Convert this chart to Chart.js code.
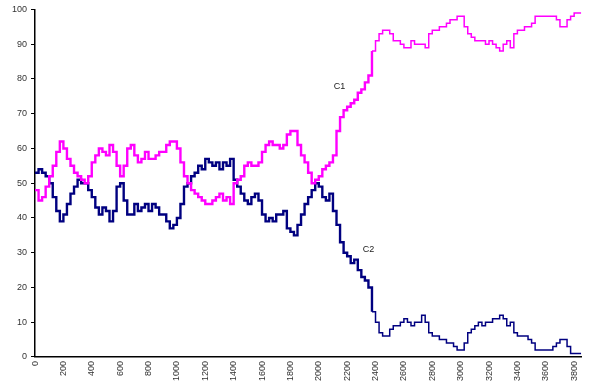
<!DOCTYPE html>
<html lang="en">
<head>
    <meta charset="UTF-8" />
    <title>C1 / C2</title>
    <script src="https://cdn.jsdelivr.net/npm/chart.js"></script>
    <style>
        body {
          margin: 0;
          background: white;
        }
        .chart-box {
          width: 589px;
          height: 385px;
        }
    </style>
</head>
<body>

<div class="chart-box">
    <canvas id="chart" width="589" height="385"></canvas>
</div>

<script>
    // sample spacing along the x axis (one value every 25 steps)
    const STEP = 25;

    // C1 (magenta)
    const c1 = [
      48, 45, 46, 49, 52, 55, 59, 62, 60, 57, 55, 53, 52, 51, 50, 52,
      56, 58, 60, 59, 58, 61, 59, 55, 52, 55, 60, 61, 58, 56, 57, 59,
      57, 57, 58, 59, 59, 61, 62, 62, 60, 56, 52, 50, 48, 47, 46, 45,
      44, 44, 45, 46, 47, 45, 46, 44, 50, 51, 52, 55, 56, 55, 55, 56,
      59, 61, 62, 61, 61, 60, 61, 64, 65, 65, 61, 58, 56, 53, 50, 51,
      52, 54, 55, 56, 58, 65, 69, 71, 72, 73, 74, 76, 77, 79, 81, 88,
      91, 93, 94, 94, 93, 91, 91, 90, 89, 89, 91, 90, 90, 90, 89, 93,
      94, 94, 95, 95, 96, 97, 97, 98, 98, 95, 93, 92, 91, 91, 91, 90,
      91, 90, 89, 88, 90, 91, 89, 93, 94, 94, 95, 95, 96, 98, 98, 98,
      98, 98, 98, 97, 95, 95, 97, 98, 99, 99, 99
    ];

    // C2 (navy)
    const c2 = [
      53, 54, 53, 52, 50, 46, 42, 39, 41, 44, 47, 49, 51, 50, 50, 48,
      46, 43, 41, 43, 42, 39, 42, 49, 50, 45, 41, 41, 44, 42, 43, 44,
      42, 44, 43, 41, 41, 39, 37, 38, 40, 44, 49, 50, 52, 53, 55, 54,
      57, 56, 55, 56, 54, 56, 55, 57, 51, 49, 47, 45, 44, 46, 47, 45,
      41, 39, 40, 39, 41, 41, 42, 37, 36, 35, 38, 41, 44, 46, 48, 50,
      49, 46, 45, 47, 42, 38, 33, 30, 29, 27, 28, 25, 23, 22, 20, 13,
      10, 7, 6, 6, 8, 9, 9, 10, 11, 10, 9, 10, 10, 12, 10, 7,
      6, 6, 5, 5, 4, 4, 3, 2, 2, 4, 7, 8, 9, 10, 9, 10,
      10, 11, 11, 12, 11, 9, 10, 7, 6, 6, 6, 5, 4, 2, 2, 2,
      2, 2, 3, 4, 5, 5, 3, 1, 1, 1, 1
    ];

    const xMax = 3850;
    const yTicks = [0, 10, 20, 30, 40, 50, 60, 70, 80, 90, 100];

    // series name labels, placed next to the curves (data coords)
    const seriesNames = [
      { text: 'C1', x: 2105, y: 77.8 },
      { text: 'C2', x: 2310, y: 30.9 }
    ];

    function toPoints(values) {
      return values.map((v, i) => ({ x: i * STEP, y: v }));
    }

    // the early part of both curves is very jittery, so draw it thicker
    const noisyWidth = ctx => ctx.p0.parsed.x < 2375 ? 2.4 : 1.5;

    const nameLabels = {
      id: 'nameLabels',
      afterDatasetsDraw(chart) {
        const { ctx, scales } = chart;
        ctx.save();
        ctx.font = '9px "Liberation Sans", Arial, sans-serif';
        ctx.fillStyle = '#222';
        ctx.textBaseline = 'middle';
        seriesNames.forEach(l => {
          ctx.fillText(l.text, scales.x.getPixelForValue(l.x), scales.y.getPixelForValue(l.y));
        });
        ctx.restore();
      }
    };

    const tickFont = { family: '"Liberation Sans", Arial, sans-serif', size: 9 };

    new Chart(document.getElementById('chart'), {
      type: 'line',
      data: {
        datasets: [
          {
            label: 'C1',
            data: toPoints(c1),
            borderColor: '#ff00ff',
            stepped: true,
            pointRadius: 0,
            borderWidth: 1.5,
            segment: { borderWidth: noisyWidth }
          },
          {
            label: 'C2',
            data: toPoints(c2),
            borderColor: '#000080',
            stepped: true,
            pointRadius: 0,
            borderWidth: 1.5,
            segment: { borderWidth: noisyWidth }
          }
        ]
      },
      options: {
        responsive: false,
        animation: false,
        layout: { padding: { top: 7, right: 4, left: 8, bottom: 0 } },
        plugins: {
          legend: { display: false },
          tooltip: { enabled: false }
        },
        scales: {
          x: {
            type: 'linear',
            min: 0,
            max: xMax,
            grid: { display: false, drawTicks: false },
            border: { color: '#000', width: 1.5 },
            ticks: {
              stepSize: 200,
              includeBounds: false,
              autoSkip: false,
              minRotation: 90,
              maxRotation: 90,
              padding: 4,
              color: '#333',
              font: tickFont,
              callback: v => String(v)
            }
          },
          y: {
            min: 0,
            max: 100,
            afterBuildTicks: axis => { axis.ticks = yTicks.map(v => ({ value: v })); },
            grid: { drawOnChartArea: false, color: '#000', tickLength: 4 },
            border: { color: '#000', width: 1.5 },
            ticks: {
              padding: 4,
              color: '#333',
              font: tickFont
            }
          }
        }
      },
      plugins: [nameLabels]
    });
</script>

</body>
</html>
